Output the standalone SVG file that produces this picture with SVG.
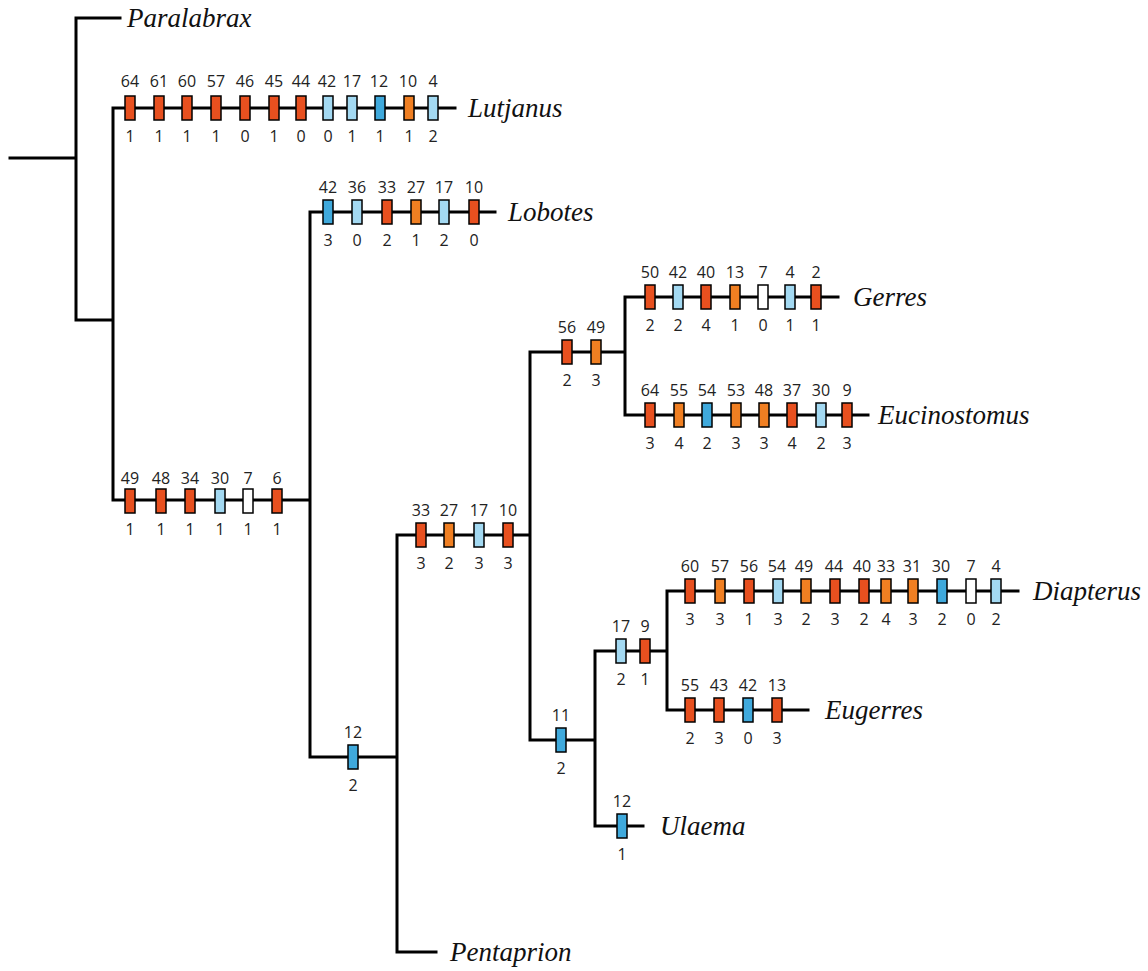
<svg xmlns="http://www.w3.org/2000/svg" width="1148" height="971" viewBox="0 0 1148 971">
<style>
.br{stroke:#000;stroke-width:3;fill:none;stroke-linecap:square}
.m{stroke:#000;stroke-width:1.5}
.r{fill:#e8501f}
.o{fill:#f07f22}
.lb{fill:#a3d9f2}
.b{fill:#3fa9dc}
.w{fill:#fff}
.n{font-family:"Open Sans","Liberation Sans",sans-serif;font-size:16px;fill:#222;text-anchor:middle}
.t{font-family:"Liberation Serif","Times New Roman",serif;font-style:italic;font-size:27px;fill:#111}
</style>
<rect width="1148" height="971" fill="#fff"/>
<g id="connectors">
<path class="br" d="M10,158H76M76,18V320M76,18H120M76,320H113M113,108V500M113,108H455M113,500H310M310,212V757M310,212H495M310,757H397M397,535V952M397,952H436M397,535H530M530,352V740M530,352H625M625,297V415M625,297H838M625,415H868M530,740H595M595,651V826M595,651H667M667,591V710M667,591H1018M667,710H808M595,826H643"/>
</g>
<g id="Paralabrax"><text class="t" x="127" y="27">Paralabrax</text></g>
<g id="Lutjanus">
<text class="t" x="468" y="117">Lutjanus</text>
<g transform="translate(0,108)">
<rect class="m r" x="125" y="-12" width="10" height="24"/><text class="n" x="130" y="-21">64</text><text class="n" x="130" y="34">1</text>
<rect class="m r" x="154" y="-12" width="10" height="24"/><text class="n" x="159" y="-21">61</text><text class="n" x="159" y="34">1</text>
<rect class="m r" x="182" y="-12" width="10" height="24"/><text class="n" x="187" y="-21">60</text><text class="n" x="187" y="34">1</text>
<rect class="m r" x="211" y="-12" width="10" height="24"/><text class="n" x="216" y="-21">57</text><text class="n" x="216" y="34">1</text>
<rect class="m r" x="240" y="-12" width="10" height="24"/><text class="n" x="245" y="-21">46</text><text class="n" x="245" y="34">0</text>
<rect class="m r" x="269" y="-12" width="10" height="24"/><text class="n" x="274" y="-21">45</text><text class="n" x="274" y="34">1</text>
<rect class="m r" x="296" y="-12" width="10" height="24"/><text class="n" x="301" y="-21">44</text><text class="n" x="301" y="34">0</text>
<rect class="m lb" x="323" y="-12" width="10" height="24"/><text class="n" x="327" y="-21">42</text><text class="n" x="328" y="34">0</text>
<rect class="m lb" x="347" y="-12" width="10" height="24"/><text class="n" x="352" y="-21">17</text><text class="n" x="352" y="34">1</text>
<rect class="m b" x="375" y="-12" width="10" height="24"/><text class="n" x="379" y="-21">12</text><text class="n" x="380" y="34">1</text>
<rect class="m o" x="404" y="-12" width="10" height="24"/><text class="n" x="408" y="-21">10</text><text class="n" x="409" y="34">1</text>
<rect class="m lb" x="428" y="-12" width="10" height="24"/><text class="n" x="433" y="-21">4</text><text class="n" x="433" y="34">2</text>
</g>
</g>
<g id="node-basal" transform="translate(0,501)">
<rect class="m r" x="125" y="-12" width="10" height="24"/><text class="n" x="130" y="-17">49</text><text class="n" x="130" y="34">1</text>
<rect class="m r" x="156" y="-12" width="10" height="24"/><text class="n" x="161" y="-17">48</text><text class="n" x="161" y="34">1</text>
<rect class="m r" x="185" y="-12" width="10" height="24"/><text class="n" x="190" y="-17">34</text><text class="n" x="190" y="34">1</text>
<rect class="m lb" x="215" y="-12" width="10" height="24"/><text class="n" x="220" y="-17">30</text><text class="n" x="220" y="34">1</text>
<rect class="m w" x="243" y="-12" width="10" height="24"/><text class="n" x="248" y="-17">7</text><text class="n" x="248" y="34">1</text>
<rect class="m r" x="272" y="-12" width="10" height="24"/><text class="n" x="277" y="-17">6</text><text class="n" x="277" y="34">1</text>
</g>
<g id="Lobotes">
<text class="t" x="508" y="221">Lobotes</text>
<g transform="translate(0,212)">
<rect class="m b" x="323" y="-12" width="10" height="24"/><text class="n" x="328" y="-19">42</text><text class="n" x="328" y="34">3</text>
<rect class="m lb" x="352" y="-12" width="10" height="24"/><text class="n" x="357" y="-19">36</text><text class="n" x="357" y="34">0</text>
<rect class="m r" x="382" y="-12" width="10" height="24"/><text class="n" x="387" y="-19">33</text><text class="n" x="387" y="34">2</text>
<rect class="m o" x="411" y="-12" width="10" height="24"/><text class="n" x="416" y="-19">27</text><text class="n" x="416" y="34">1</text>
<rect class="m lb" x="439" y="-12" width="10" height="24"/><text class="n" x="444" y="-19">17</text><text class="n" x="444" y="34">2</text>
<rect class="m r" x="469" y="-12" width="10" height="24"/><text class="n" x="474" y="-19">10</text><text class="n" x="474" y="34">0</text>
</g>
</g>
<g id="node-12a" transform="translate(0,757)">
<rect class="m b" x="348" y="-12" width="10" height="24"/><text class="n" x="353" y="-19">12</text><text class="n" x="353" y="34">2</text>
</g>
<g id="Pentaprion"><text class="t" x="450" y="961">Pentaprion</text></g>
<g id="node-gerreids" transform="translate(0,535)">
<rect class="m r" x="416" y="-12" width="10" height="24"/><text class="n" x="421" y="-19">33</text><text class="n" x="421" y="34">3</text>
<rect class="m o" x="444" y="-12" width="10" height="24"/><text class="n" x="449" y="-19">27</text><text class="n" x="449" y="34">2</text>
<rect class="m lb" x="474" y="-12" width="10" height="24"/><text class="n" x="479" y="-19">17</text><text class="n" x="479" y="34">3</text>
<rect class="m r" x="503" y="-12" width="10" height="24"/><text class="n" x="508" y="-19">10</text><text class="n" x="508" y="34">3</text>
</g>
<g id="node-56" transform="translate(0,352)">
<rect class="m r" x="562" y="-12" width="10" height="24"/><text class="n" x="567" y="-19">56</text><text class="n" x="567" y="34">2</text>
<rect class="m o" x="591" y="-12" width="10" height="24"/><text class="n" x="596" y="-19">49</text><text class="n" x="596" y="34">3</text>
</g>
<g id="Gerres">
<text class="t" x="853" y="306">Gerres</text>
<g transform="translate(0,297)">
<rect class="m r" x="645" y="-12" width="10" height="24"/><text class="n" x="650" y="-19">50</text><text class="n" x="650" y="34">2</text>
<rect class="m lb" x="673" y="-12" width="10" height="24"/><text class="n" x="678" y="-19">42</text><text class="n" x="678" y="34">2</text>
<rect class="m r" x="701" y="-12" width="10" height="24"/><text class="n" x="706" y="-19">40</text><text class="n" x="706" y="34">4</text>
<rect class="m o" x="730" y="-12" width="10" height="24"/><text class="n" x="735" y="-19">13</text><text class="n" x="735" y="34">1</text>
<rect class="m w" x="758" y="-12" width="10" height="24"/><text class="n" x="763" y="-19">7</text><text class="n" x="763" y="34">0</text>
<rect class="m lb" x="785" y="-12" width="10" height="24"/><text class="n" x="790" y="-19">4</text><text class="n" x="790" y="34">1</text>
<rect class="m r" x="811" y="-12" width="10" height="24"/><text class="n" x="816" y="-19">2</text><text class="n" x="816" y="34">1</text>
</g>
</g>
<g id="Eucinostomus">
<text class="t" x="878" y="424">Eucinostomus</text>
<g transform="translate(0,415)">
<rect class="m r" x="645" y="-12" width="10" height="24"/><text class="n" x="650" y="-19">64</text><text class="n" x="650" y="34">3</text>
<rect class="m o" x="674" y="-12" width="10" height="24"/><text class="n" x="679" y="-19">55</text><text class="n" x="679" y="34">4</text>
<rect class="m b" x="702" y="-12" width="10" height="24"/><text class="n" x="707" y="-19">54</text><text class="n" x="707" y="34">2</text>
<rect class="m o" x="731" y="-12" width="10" height="24"/><text class="n" x="736" y="-19">53</text><text class="n" x="736" y="34">3</text>
<rect class="m o" x="759" y="-12" width="10" height="24"/><text class="n" x="764" y="-19">48</text><text class="n" x="764" y="34">3</text>
<rect class="m r" x="787" y="-12" width="10" height="24"/><text class="n" x="792" y="-19">37</text><text class="n" x="792" y="34">4</text>
<rect class="m lb" x="816" y="-12" width="10" height="24"/><text class="n" x="821" y="-19">30</text><text class="n" x="821" y="34">2</text>
<rect class="m r" x="842" y="-12" width="10" height="24"/><text class="n" x="847" y="-19">9</text><text class="n" x="847" y="34">3</text>
</g>
</g>
<g id="node-11" transform="translate(0,740)">
<rect class="m b" x="556" y="-12" width="10" height="24"/><text class="n" x="561" y="-19">11</text><text class="n" x="561" y="34">2</text>
</g>
<g id="node-17-9" transform="translate(0,651)">
<rect class="m lb" x="616" y="-12" width="10" height="24"/><text class="n" x="621" y="-19">17</text><text class="n" x="621" y="34">2</text>
<rect class="m r" x="640" y="-12" width="10" height="24"/><text class="n" x="645" y="-19">9</text><text class="n" x="645" y="34">1</text>
</g>
<g id="Diapterus">
<text class="t" x="1033" y="600">Diapterus</text>
<g transform="translate(0,591)">
<rect class="m r" x="685" y="-12" width="10" height="24"/><text class="n" x="690" y="-19">60</text><text class="n" x="690" y="34">3</text>
<rect class="m o" x="715" y="-12" width="10" height="24"/><text class="n" x="720" y="-19">57</text><text class="n" x="720" y="34">3</text>
<rect class="m r" x="744" y="-12" width="10" height="24"/><text class="n" x="749" y="-19">56</text><text class="n" x="749" y="34">1</text>
<rect class="m lb" x="773" y="-12" width="10" height="24"/><text class="n" x="777" y="-19">54</text><text class="n" x="778" y="34">3</text>
<rect class="m o" x="801" y="-12" width="10" height="24"/><text class="n" x="804" y="-19">49</text><text class="n" x="806" y="34">2</text>
<rect class="m r" x="830" y="-12" width="10" height="24"/><text class="n" x="834" y="-19">44</text><text class="n" x="835" y="34">3</text>
<rect class="m r" x="859" y="-12" width="10" height="24"/><text class="n" x="862" y="-19">40</text><text class="n" x="864" y="34">2</text>
<rect class="m o" x="881" y="-12" width="10" height="24"/><text class="n" x="886" y="-19">33</text><text class="n" x="886" y="34">4</text>
<rect class="m o" x="908" y="-12" width="10" height="24"/><text class="n" x="912" y="-19">31</text><text class="n" x="913" y="34">3</text>
<rect class="m b" x="937" y="-12" width="10" height="24"/><text class="n" x="941" y="-19">30</text><text class="n" x="942" y="34">2</text>
<rect class="m w" x="966" y="-12" width="10" height="24"/><text class="n" x="971" y="-19">7</text><text class="n" x="971" y="34">0</text>
<rect class="m lb" x="991" y="-12" width="10" height="24"/><text class="n" x="996" y="-19">4</text><text class="n" x="996" y="34">2</text>
</g>
</g>
<g id="Eugerres">
<text class="t" x="825" y="719">Eugerres</text>
<g transform="translate(0,710)">
<rect class="m r" x="685" y="-12" width="10" height="24"/><text class="n" x="690" y="-19">55</text><text class="n" x="690" y="34">2</text>
<rect class="m r" x="714" y="-12" width="10" height="24"/><text class="n" x="719" y="-19">43</text><text class="n" x="719" y="34">3</text>
<rect class="m b" x="743" y="-12" width="10" height="24"/><text class="n" x="748" y="-19">42</text><text class="n" x="748" y="34">0</text>
<rect class="m r" x="772" y="-12" width="10" height="24"/><text class="n" x="777" y="-19">13</text><text class="n" x="777" y="34">3</text>
</g>
</g>
<g id="Ulaema">
<text class="t" x="660" y="835">Ulaema</text>
<g transform="translate(0,826)">
<rect class="m b" x="617" y="-12" width="10" height="24"/><text class="n" x="622" y="-19">12</text><text class="n" x="622" y="34">1</text>
</g>
</g>
</svg>
